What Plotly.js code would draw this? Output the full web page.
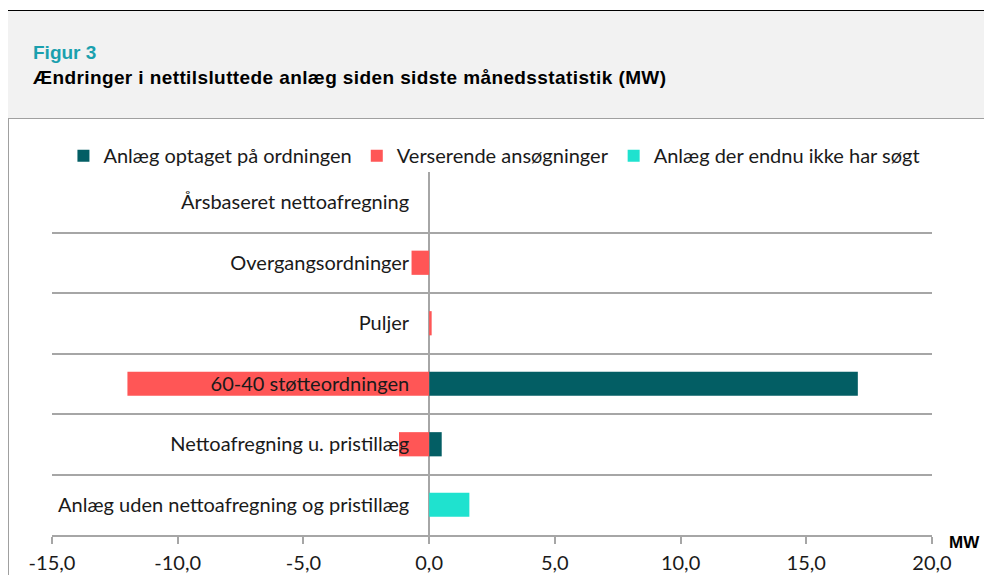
<!DOCTYPE html>
<html>
<head>
<meta charset="utf-8">
<script src="https://cdn.plot.ly/plotly-3.0.1.min.js"></script>
<style>
  html, body { margin: 0; padding: 0; background: #ffffff; }
  #wrap { position: relative; width: 984px; height: 575px; overflow: hidden; background: #ffffff; }
  #topline { position: absolute; left: 8px; top: 10px; width: 976px; height: 1px; background: #000000; }
  #header { position: absolute; left: 8px; top: 11px; width: 976px; height: 107px; background: #f2f2f2; }
  #fig { position: absolute; left: 33px; top: 43px; font-family: "Liberation Sans", Arial, sans-serif; font-weight: bold; font-size: 19px; line-height: 19px; color: #1aa0ae; white-space: nowrap; }
  #ttl { position: absolute; left: 33px; top: 68px; font-family: "Liberation Sans", Arial, sans-serif; font-weight: bold; font-size: 19px; line-height: 19px; letter-spacing: 0.4px; color: #000000; white-space: nowrap; }
  #panel { position: absolute; left: 8px; top: 118px; width: 976px; height: 457px; border-top: 1px solid #a0a0a0; border-left: 1px solid #a0a0a0; background: #ffffff; box-sizing: border-box; }
  #chart { position: absolute; left: 8px; top: 119px; width: 976px; height: 456px; }
</style>
</head>
<body>
<div id="wrap">
  <div id="topline"></div>
  <div id="header"></div>
  <div id="fig">Figur 3</div>
  <div id="ttl">Ændringer i nettilsluttede anlæg siden sidste månedsstatistik (MW)</div>
  <div id="panel"></div>
  <div id="chart"></div>
</div>
<script>
// ---- data ----
var categories = [
  "Årsbaseret nettoafregning",
  "Overgangsordninger",
  "Puljer",
  "60-40 støtteordningen",
  "Nettoafregning u. pristillæg",
  "Anlæg uden nettoafregning og pristillæg"
];
var seriesNames = ["Anlæg optaget på ordningen", "Verserende ansøgninger", "Anlæg der endnu ikke har søgt"];
var optaget    = [0, 0, 0, 17.05, 0.5, 0];
var verserende = [0, -0.7, 0.1, -12.0, -1.2, 0];
var ikkeSoegt  = [0, 0, 0, 0, 0, 1.6];
var xTickVals  = [-15, -10, -5, 0, 5, 10, 15, 20];
var xTickText  = ["-15,0", "-10,0", "-5,0", "0,0", "5,0", "10,0", "15,0", "20,0"];
var unitLabel  = "MW";

var colors = ["#035e64", "#ff5656", "#1fe2cf"];
var labelFont = "Lato, 'Open Sans', sans-serif";

function mk(name, vals, color) {
  return {
    type: "bar", orientation: "h", name: name,
    x: vals, y: categories,
    marker: { color: color, line: { width: 0 } },
    hoverinfo: "x+name"
  };
}
var data = [
  mk(seriesNames[0], optaget, colors[0]),
  mk(seriesNames[1], verserende, colors[1]),
  mk(seriesNames[2], ikkeSoegt, colors[2])
];

var layout = {
  width: 976, height: 456,
  margin: { l: 44, r: 52, t: 53, b: 40, pad: 0 },
  paper_bgcolor: "rgba(0,0,0,0)",
  plot_bgcolor: "rgba(0,0,0,0)",
  barmode: "relative",
  bargap: 0.6,
  showlegend: true,
  legend: {
    orientation: "h", x: 0.013, xanchor: "left", y: 1.045, yanchor: "middle",
    font: { family: labelFont, size: 20, color: "#1a1a1a" },
    bgcolor: "rgba(0,0,0,0)", traceorder: "normal"
  },
  font: { family: labelFont, size: 20, color: "#1a1a1a" },
  xaxis: {
    range: [-15, 20], tickmode: "array", tickvals: xTickVals, ticktext: xTickText,
    ticks: "outside", ticklen: 7, tickwidth: 2, tickcolor: "#a6a6a6",
    showline: true, linecolor: "#a6a6a6", linewidth: 2,
    showgrid: false, zeroline: true, zerolinecolor: "#a6a6a6", zerolinewidth: 2,
    ticklabelstandoff: 2,
    tickfont: { family: labelFont, size: 20, color: "#1a1a1a" },
    fixedrange: true
  },
  yaxis: {
    type: "category", autorange: "reversed",
    anchor: "free", position: 15 / 35,
    tickson: "boundaries", ticks: "", showline: false,
    showgrid: true, gridcolor: "#a6a6a6", gridwidth: 2,
    zeroline: false,
    ticklabelstandoff: 20,
    tickfont: { family: labelFont, size: 20, color: "#1a1a1a" },
    fixedrange: true
  },
  annotations: [{
    text: "<b>" + unitLabel + "</b>", xref: "paper", yref: "paper",
    x: 1.017, y: -0.02, xanchor: "left", yanchor: "middle", showarrow: false,
    font: { family: "'Liberation Sans', Arial, sans-serif", size: 17, color: "#000000" }
  }]
};

Plotly.newPlot("chart", data, layout, { displayModeBar: false, staticPlot: true });
</script>
</body>
</html>
